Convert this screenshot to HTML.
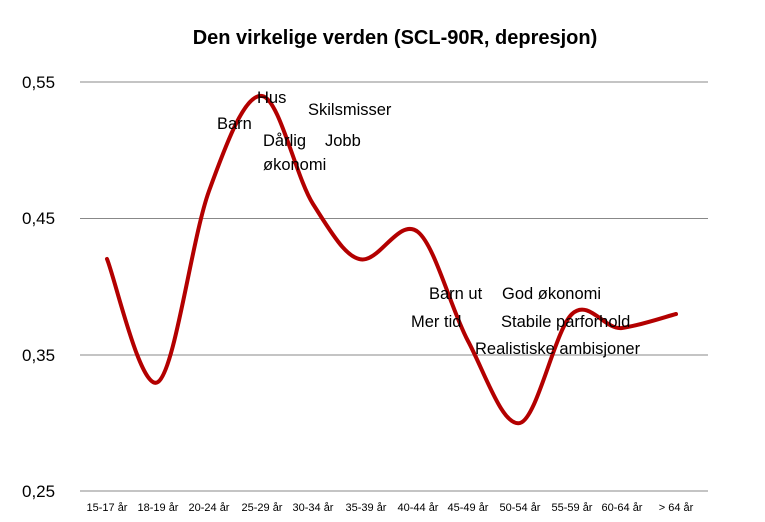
<!DOCTYPE html>
<html><head><meta charset="utf-8"><style>
html,body{margin:0;padding:0;background:#fff;}
svg{display:block;font-family:"Liberation Sans",sans-serif;}
</style></head><body>
<svg width="765" height="522" viewBox="0 0 765 522">
<rect width="765" height="522" fill="#fff"/>
<text x="395" y="44" text-anchor="middle" font-size="20" font-weight="bold" fill="#000">Den virkelige verden (SCL-90R, depresjon)</text>
<g stroke="#888" stroke-width="1">
<line x1="80" y1="82" x2="708" y2="82"/>
<line x1="80" y1="218.5" x2="708" y2="218.5"/>
<line x1="80" y1="355" x2="708" y2="355"/>
<line x1="80" y1="491" x2="708" y2="491"/>
</g>
<g font-size="17" fill="#000">
<text x="22" y="88">0,55</text>
<text x="22" y="224">0,45</text>
<text x="22" y="361">0,35</text>
<text x="22" y="497">0,25</text>
</g>
<g font-size="11" fill="#000" text-anchor="middle">
<text x="107" y="511">15-17 år</text>
<text x="158" y="511">18-19 år</text>
<text x="209" y="511">20-24 år</text>
<text x="262" y="511">25-29 år</text>
<text x="313" y="511">30-34 år</text>
<text x="366" y="511">35-39 år</text>
<text x="418" y="511">40-44 år</text>
<text x="468" y="511">45-49 år</text>
<text x="520" y="511">50-54 år</text>
<text x="572" y="511">55-59 år</text>
<text x="622" y="511">60-64 år</text>
<text x="676" y="511">&gt; 64 år</text>
</g>
<path d="M107,259 C115.5,279.5 141,393.3 158,382 C175,370.7 191.7,238.7 209,191 C226.3,143.3 244.7,93.8 262,96 C279.3,98.2 295.7,176.8 313,204 C330.5,231.2 348.5,263.7 366,259 C383.5,254.3 401,218.3 418,232 C435,245.7 451,309.2 468,341 C485,372.8 502.7,427.5 520,423 C537.3,418.5 555,329.8 572,314 C589,298.2 604.7,330.3 622,328 C639.3,325.7 667,316.3 676,314" fill="none" stroke="#b30000" stroke-width="4" stroke-linecap="round"/>
<g font-size="16.5" fill="#000">
<text x="257" y="103">Hus</text>
<text x="217" y="129">Barn</text>
<text x="308" y="115">Skilsmisser</text>
<text x="263" y="146">Dårlig</text>
<text x="325" y="146">Jobb</text>
<text x="263" y="170">økonomi</text>
<text x="429" y="299">Barn ut</text>
<text x="502" y="299">God økonomi</text>
<text x="411" y="327">Mer tid</text>
<text x="501" y="327">Stabile parforhold</text>
<text x="475" y="354">Realistiske ambisjoner</text>
</g>
</svg>
</body></html>
